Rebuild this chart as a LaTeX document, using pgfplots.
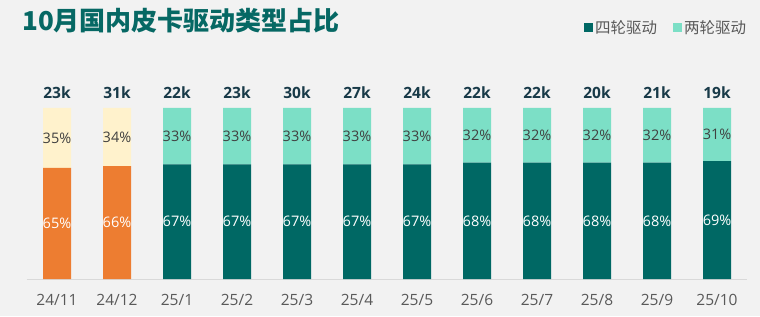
\documentclass[border=0pt]{standalone}
\usepackage{pgfplots}
\pgfplotsset{compat=1.18}
\usepackage{fontspec}
\setmainfont{Open Sans}
\newfontfamily\cjk{Noto Sans CJK SC}
\definecolor{bg}{RGB}{242,242,242}
\definecolor{titlec}{RGB}{6,104,100}
\definecolor{teal4}{RGB}{0,104,100}
\definecolor{teal2}{RGB}{124,223,198}
\definecolor{orange4}{RGB}{237,125,49}
\definecolor{yellow2}{RGB}{255,242,204}
\definecolor{totc}{RGB}{24,58,72}
\definecolor{grayt}{RGB}{89,89,89}
\definecolor{darkt}{RGB}{64,64,64}
\definecolor{axc}{RGB}{217,217,217}
\pgfplotsset{base/.style={width=720pt,height=171pt,scale only axis,
  at={(27pt,37pt)},anchor=south west,xmin=-0.5,xmax=11.5,ymin=0,ymax=100}}
\begin{document}
\begin{tikzpicture}[x=1pt,y=1pt]
\fill[bg] (0,0) rectangle (760,316);
\useasboundingbox (0,0) rectangle (760,316);
\node[anchor=west,text=titlec,font=\cjk\bfseries\fontsize{26}{26}\selectfont,inner sep=0] at (22,295) {10月国内皮卡驱动类型占比};
\begin{axis}[base, ybar stacked, bar width=28pt,
  axis x line*=bottom, axis y line=none,
  x axis line style={draw=axc, line width=1pt},
  xtick={0,...,11},
  xticklabels={24/11,24/12,25/1,25/2,25/3,25/4,25/5,25/6,25/7,25/8,25/9,25/10},
  major tick length=0pt,
  xticklabel style={text=grayt,font=\fontsize{15.5}{15.5}\selectfont,yshift=-12pt},
  legend columns=2,
  legend style={draw=none,fill=none,at={(1.006,1.468)},anchor=east,
    font=\cjk\fontsize{15.5}{15.5}\selectfont,text=grayt,
    /tikz/every even column/.append style={column sep=14pt}},
  legend image code/.code={\fill[#1] (0pt,-4.5pt) rectangle (9pt,4.5pt);},
  clip=false]
\addplot[fill=orange4,draw=none,forget plot] coordinates {(0,65)(1,66)(2,0)(3,0)(4,0)(5,0)(6,0)(7,0)(8,0)(9,0)(10,0)(11,0)};
\addplot[fill=teal4,draw=none] coordinates {(0,0)(1,0)(2,67)(3,67)(4,67)(5,67)(6,67)(7,68)(8,68)(9,68)(10,68)(11,69)};
\addlegendentry{四轮驱动}
\addplot[fill=yellow2,draw=none,forget plot] coordinates {(0,35)(1,34)(2,0)(3,0)(4,0)(5,0)(6,0)(7,0)(8,0)(9,0)(10,0)(11,0)};
\addplot[fill=teal2,draw=none] coordinates {(0,0)(1,0)(2,33)(3,33)(4,33)(5,33)(6,33)(7,32)(8,32)(9,32)(10,32)(11,31)};
\addlegendentry{两轮驱动}
\end{axis}
\begin{axis}[base, hide axis, clip=false]
\addplot[only marks, mark=none, nodes near coords, point meta=explicit symbolic,
  nodes near coords align=center,
  every node near coord/.style={text=white,font=\fontsize{14.5}{14.5}\selectfont,inner sep=0pt}]
  coordinates {(0,32.5)[65\%] (1,33)[66\%] (2,33.5)[67\%] (3,33.5)[67\%] (4,33.5)[67\%] (5,33.5)[67\%] (6,33.5)[67\%] (7,34)[68\%] (8,34)[68\%] (9,34)[68\%] (10,34)[68\%] (11,34.5)[69\%]};
\addplot[only marks, mark=none, nodes near coords, point meta=explicit symbolic,
  nodes near coords align=center,
  every node near coord/.style={text=darkt,font=\fontsize{14.5}{14.5}\selectfont,inner sep=0pt}]
  coordinates {(0,82.5)[35\%] (1,83)[34\%] (2,83.5)[33\%] (3,83.5)[33\%] (4,83.5)[33\%] (5,83.5)[33\%] (6,83.5)[33\%] (7,84)[32\%] (8,84)[32\%] (9,84)[32\%] (10,84)[32\%] (11,84.5)[31\%]};
\addplot[only marks, mark=none, nodes near coords, point meta=explicit symbolic,
  nodes near coords align=center,
  every node near coord/.style={text=totc,font=\bfseries\fontsize{15.5}{15.5}\selectfont,inner sep=0pt}]
  coordinates {(0,108.8)[23k] (1,108.8)[31k] (2,108.8)[22k] (3,108.8)[23k] (4,108.8)[30k] (5,108.8)[27k] (6,108.8)[24k] (7,108.8)[22k] (8,108.8)[22k] (9,108.8)[20k] (10,108.8)[21k] (11,108.8)[19k]};
\end{axis}
\end{tikzpicture}
\end{document}
